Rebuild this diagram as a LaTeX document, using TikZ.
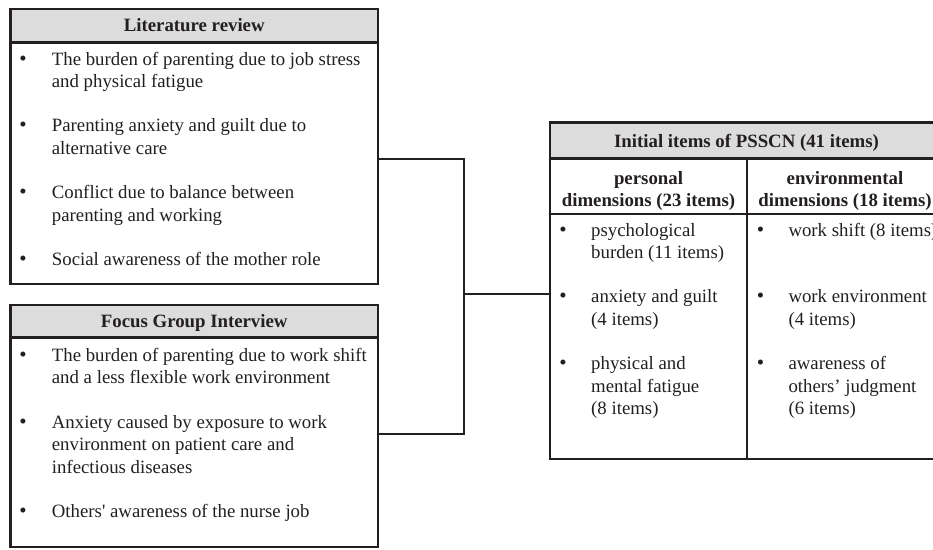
\documentclass[tikz,border=0pt]{standalone}
\usepackage{fontspec}
\setmainfont{Liberation Serif}
\definecolor{linec}{HTML}{231F20}
\definecolor{hdrgray}{HTML}{DCDCDC}
\begin{document}
\begin{tikzpicture}[x=1pt,y=-1pt,
  boxs/.style={draw=linec,line width=2.9pt,rectangle,inner sep=0pt},
  hdrs/.style={fill=hdrgray,rectangle,inner sep=0pt,outer sep=0pt},
  sepl/.style={draw=linec,line width=2.5pt},
  inl/.style={draw=linec,line width=2.1pt},
  conn/.style={draw=linec,line width=1.7pt},
  txt/.style={anchor=base west,inner sep=0pt,font=\fontsize{18.8}{22.3}\selectfont,text=linec},
  htxt/.style={anchor=base,inner sep=0pt,font=\fontsize{18.8}{22.3}\selectfont\bfseries,text=linec},
  bul/.style={anchor=base,inner sep=0pt,font=\fontsize{21}{22.3}\selectfont,text=linec}]
\useasboundingbox (0,0) rectangle (933,549);
\clip (0,0) rectangle (933,549);
% ---------- Literature review box
\node[hdrs,minimum width=367.5pt,minimum height=33.5pt] (lithd) at (194.25,25.75) {};
\node[boxs,minimum width=367.5pt,minimum height=275pt] (lit) at (194.25,146.5) {};
\draw[sepl] (lithd.south west) -- (lithd.south east);
\node[htxt] (littl) at (194.25,31.5) {Literature review};
\foreach \n/\y in {1/65,2/131.9,3/198.8,4/265.7}{\node[bul] (litb\n) at (23,\y) {•};}
\node[txt] (lit1a) at (51.7,65) {The burden of parenting due to job stress};
\node[txt] (lit1b) at (51.7,87.3) {and physical fatigue};
\node[txt] (lit2a) at (51.7,131.9) {Parenting anxiety and guilt due to};
\node[txt] (lit2b) at (51.7,154.2) {alternative care};
\node[txt] (lit3a) at (51.7,198.8) {Conflict due to balance between};
\node[txt] (lit3b) at (51.7,221.1) {parenting and working};
\node[txt] (lit4a) at (51.7,265.7) {Social awareness of the mother role};
% ---------- Focus Group Interview box
\node[hdrs,minimum width=367.5pt,minimum height=32.5pt] (fochd) at (194.25,321.25) {};
\node[boxs,minimum width=367.5pt,minimum height=242pt] (foc) at (194.25,426) {};
\draw[sepl] (fochd.south west) -- (fochd.south east);
\node[htxt] (foctl) at (194.25,327.5) {Focus Group Interview};
\foreach \n/\y in {1/361.5,2/428.4,3/517.6}{\node[bul] (focb\n) at (23,\y) {•};}
\node[txt] (foc1a) at (51.7,361.5) {The burden of parenting due to work shift};
\node[txt] (foc1b) at (51.7,383.8) {and a less flexible work environment};
\node[txt] (foc2a) at (51.7,428.4) {Anxiety caused by exposure to work};
\node[txt] (foc2b) at (51.7,450.7) {environment on patient care and};
\node[txt] (foc2c) at (51.7,473) {infectious diseases};
\node[txt] (foc3a) at (51.7,517.6) {Others\textquotesingle{} awareness of the nurse job};
% ---------- Initial items box
\node[hdrs,minimum width=393pt,minimum height=35.6pt] (inihd) at (746.5,140.5) {};
\node[boxs,minimum width=393pt,minimum height=336.3pt] (ini) at (746.5,290.85) {};
\draw[sepl] (inihd.south west) -- (inihd.south east);
\coordinate (colt) at (747,158.3);
\coordinate (colh) at (747,214);
\draw[inl] (colt) -- (colt |- ini.south);
\draw[inl] (ini.west |- colh) -- (ini.east |- colh);
\node[htxt] (initl) at (746.5,147) {Initial items of PSSCN (41 items)};
\node[htxt] (c1h1) at (648.5,184.5) {personal};
\node[htxt] (c1h2) at (648.5,206) {dimensions (23 items)};
\node[htxt] (c2h1) at (845,184.5) {environmental};
\node[htxt] (c2h2) at (845,206) {dimensions (18 items)};
\foreach \n/\y in {1/236,2/302.9,3/369.8}{\node[bul] (c1b\n) at (563,\y) {•}; \node[bul] (c2b\n) at (760.5,\y) {•};}
\node[txt] (c11a) at (591,236) {psychological};
\node[txt] (c11b) at (591,258.3) {burden (11 items)};
\node[txt] (c12a) at (591,302.9) {anxiety and guilt};
\node[txt] (c12b) at (591,325.2) {(4 items)};
\node[txt] (c13a) at (591,369.8) {physical and};
\node[txt] (c13b) at (591,392.1) {mental fatigue};
\node[txt] (c13c) at (591,414.4) {(8 items)};
\node[txt] (c21a) at (788.3,236) {work shift (8 items)};
\node[txt] (c22a) at (788.3,302.9) {work environment};
\node[txt] (c22b) at (788.3,325.2) {(4 items)};
\node[txt] (c23a) at (788.3,369.8) {awareness of};
\node[txt] (c23b) at (788.3,392.1) {others’ judgment};
\node[txt] (c23c) at (788.3,414.4) {(6 items)};
% ---------- connectors
\coordinate (ja) at (464,159);
\coordinate (jb) at (464,434);
\coordinate (jm) at (464,294);
\draw[conn] (lit.east |- ja) -- (ja) -- (jb) -- (foc.east |- jb);
\draw[conn] (jm) -- (ini.west |- jm);
\end{tikzpicture}
\end{document}
